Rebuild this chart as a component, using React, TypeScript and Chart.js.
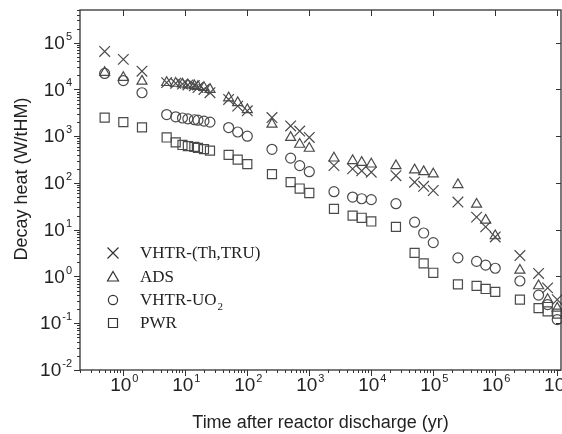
import { useEffect, useRef } from "react";
import { Chart, registerables } from "chart.js";

Chart.register(...registerables);

// ---- data (years after discharge, W/tHM) ----
const times = [
  0.5, 1, 2,
  5, 7, 9, 11, 14, 16, 20, 25,
  50, 70, 100,
  250,
  500, 700, 1000,
  2500,
  5000, 7000, 10000,
  25000,
  50000, 70000, 100000,
  250000,
  500000, 700000, 1000000,
  2500000,
  5000000, 7000000, 10000000,
];

const vhtrThTru = [
  65000, 44000, 24500,
  14000, 13500, 13000, 12500, 12000, 11000, 10000, 8500,
  6100, 4400, 3500,
  2500,
  1660, 1290, 940,
  235,
  200, 182, 170,
  143,
  104, 85, 69,
  39,
  18.6, 11.5, 7,
  2.8,
  1.16, 0.57, 0.32,
];

const ads = [
  23000, 18000, 15000,
  14000, 13500, 13000, 12500, 12000, 11500, 11000, 10000,
  6600, 5200, 3700,
  1800,
  940, 670, 550,
  340,
  300, 275, 253,
  233,
  190, 174, 155,
  92,
  35, 16, 7.4,
  1.36,
  0.63, 0.32, 0.21,
];

const vhtrUO2 = [
  22000, 15500, 8500,
  2900, 2600, 2450, 2350, 2250, 2200, 2100, 2000,
  1530, 1230, 1000,
  525,
  340, 235, 174,
  65,
  50, 46, 44,
  36,
  14.5, 8.5, 5.3,
  2.5,
  2.1, 1.75, 1.5,
  0.8,
  0.4, 0.25, 0.12,
];

const pwr = [
  2500, 2000, 1550,
  940, 740, 650, 615, 590, 560, 530, 490,
  400, 316, 252,
  155,
  104, 76, 61,
  28,
  20, 18, 15,
  11.5,
  3.2, 1.9, 1.2,
  0.68,
  0.63, 0.54, 0.47,
  0.32,
  0.21, 0.18, 0.16,
];

const seriesLabels = ["VHTR-(Th,TRU)", "ADS", "VHTR-UO", "PWR"];
const seriesSubscripts = ["", "", "2", ""];
const seriesStyles = ["crossRot", "triangle", "circle", "rect"];
const xTickExponents = [0, 1, 2, 3, 4, 5, 6, 7];
const yTickExponents = [-2, -1, 0, 1, 2, 3, 4, 5];
const xTitle = "Time after reactor discharge (yr)";
const yTitle = "Decay heat (W/tHM)";

const MARK = "#4a4a4a";
const INK = "#222";
const SANS = '"Liberation Sans", Arial, sans-serif';
const SERIF = '"Liberation Serif", "Times New Roman", serif';

function drawMarker(ctx: CanvasRenderingContext2D, style: string, x: number, y: number) {
  ctx.beginPath();
  if (style === "crossRot") {
    const h = 5.5;
    ctx.moveTo(x - h, y - h); ctx.lineTo(x + h, y + h);
    ctx.moveTo(x + h, y - h); ctx.lineTo(x - h, y + h);
  } else if (style === "triangle") {
    ctx.moveTo(x, y - 5.5); ctx.lineTo(x + 5.5, y + 4); ctx.lineTo(x - 5.5, y + 4); ctx.closePath();
  } else if (style === "circle") {
    ctx.arc(x, y, 4.6, 0, Math.PI * 2);
  } else {
    ctx.rect(x - 4.5, y - 4.5, 9, 9);
  }
  ctx.stroke();
}

const framePlugin = {
  id: "frame",
  afterDraw(chart: any) {
    const { ctx, chartArea: a } = chart;
    const xs = chart.scales.x;
    const ys = chart.scales.y;
    ctx.save();
    ctx.strokeStyle = "#333";
    ctx.lineWidth = 1.3;
    ctx.strokeRect(a.left, a.top, a.right - a.left, a.bottom - a.top);

    const seg = (x1: number, y1: number, x2: number, y2: number) => {
      ctx.beginPath(); ctx.moveTo(x1, y1); ctx.lineTo(x2, y2); ctx.stroke();
    };
    ctx.lineWidth = 1;
    // x ticks
    for (let e = -1; e <= 7; e++) {
      for (let m = 1; m <= 9; m++) {
        const v = m * Math.pow(10, e);
        if (v < xs.min || v > xs.max) continue;
        const px = Math.round(xs.getPixelForValue(v)) + 0.5;
        const major = m === 1;
        seg(px, a.bottom, px, a.bottom + (major ? 6 : 3));
        if (major) seg(px, a.top, px, a.top + 6);
      }
    }
    // y ticks
    for (let e = -2; e <= 5; e++) {
      for (let m = 1; m <= 9; m++) {
        const v = m * Math.pow(10, e);
        if (v < ys.min || v > ys.max) continue;
        const py = Math.round(ys.getPixelForValue(v)) + 0.5;
        const major = m === 1;
        seg(a.left, py, a.left - (major ? 6 : 3), py);
        if (major) seg(a.right, py, a.right - 5, py);
      }
    }

    ctx.fillStyle = INK;
    const bigFont = "19px " + SANS;
    const supFont = "11px " + SANS;
    ctx.textBaseline = "middle";
    ctx.textAlign = "left";
    // y tick labels
    for (const e of yTickExponents) {
      const py = ys.getPixelForValue(Math.pow(10, e));
      ctx.font = bigFont;
      const w1 = ctx.measureText("10").width;
      ctx.font = supFont;
      const w2 = ctx.measureText(String(e)).width;
      const x0 = a.left - 8 - w2 - 1 - w1;
      ctx.font = bigFont;
      ctx.fillText("10", x0, py + 1);
      ctx.font = supFont;
      ctx.fillText(String(e), x0 + w1 + 1, py - 6);
    }
    // x tick labels
    for (const e of xTickExponents) {
      const px = xs.getPixelForValue(Math.pow(10, e));
      ctx.font = bigFont;
      const w1 = ctx.measureText("10").width;
      ctx.font = supFont;
      const w2 = ctx.measureText(String(e)).width;
      const x0 = px - (w1 + 1 + w2) / 2 + 1;
      ctx.font = bigFont;
      ctx.fillText("10", x0, a.bottom + 16);
      ctx.font = supFont;
      ctx.fillText(String(e), x0 + w1 + 1, a.bottom + 9);
    }
    // titles
    ctx.font = "18px " + SANS;
    ctx.textAlign = "center";
    ctx.fillText(xTitle, (a.left + a.right) / 2, a.bottom + 53);
    ctx.save();
    ctx.translate(22, 179);
    ctx.rotate(-Math.PI / 2);
    ctx.fillText(yTitle, 0, 0);
    ctx.restore();

    // legend
    const rows = [253, 277, 300, 323];
    ctx.textAlign = "left";
    for (let i = 0; i < seriesLabels.length; i++) {
      const y = rows[i];
      ctx.strokeStyle = "#333";
      ctx.lineWidth = 1.2;
      drawMarker(ctx, seriesStyles[i], 113, y);
      ctx.fillStyle = INK;
      ctx.font = "17px " + SERIF;
      ctx.fillText(seriesLabels[i], 140, y + 1);
      if (seriesSubscripts[i]) {
        const w = ctx.measureText(seriesLabels[i]).width;
        ctx.font = "11px " + SERIF;
        ctx.fillText(seriesSubscripts[i], 140 + w + 1, y + 7);
      }
    }
    ctx.restore();
  },
};

export default function App() {
  const ref = useRef<HTMLCanvasElement | null>(null);
  useEffect(() => {
    document.body.style.margin = "0";
    const series = [vhtrThTru, ads, vhtrUO2, pwr];
    const radii = [7.5, 5.8, 5, 6.4];
    const chart = new Chart(ref.current as HTMLCanvasElement, {
      type: "scatter",
      data: {
        datasets: series.map((vals, i) => ({
          label: seriesLabels[i] + seriesSubscripts[i],
          data: times.map((t, j) => ({ x: t, y: vals[j] })),
          pointStyle: seriesStyles[i] as any,
          pointRadius: radii[i],
          pointBorderWidth: 1.2,
          borderColor: MARK,
          backgroundColor: "rgba(0,0,0,0)",
          showLine: false,
          clip: false as any,
        })),
      },
      options: {
        animation: false,
        responsive: false,
        events: [],
        layout: { autoPadding: false, padding: { left: 80, top: 10, right: 1, bottom: 64 } },
        plugins: { legend: { display: false }, tooltip: { enabled: false } },
        scales: {
          x: { type: "logarithmic", min: 0.2, max: 1.15e7, display: false },
          y: { type: "logarithmic", min: 0.01, max: 5e5, display: false },
        },
      },
      plugins: [framePlugin],
    });
    return () => chart.destroy();
  }, []);
  return (
    <div style={{ width: 562, height: 434, background: "#fff" }}>
      <canvas ref={ref} width={562} height={434} style={{ display: "block" }} />
    </div>
  );
}
